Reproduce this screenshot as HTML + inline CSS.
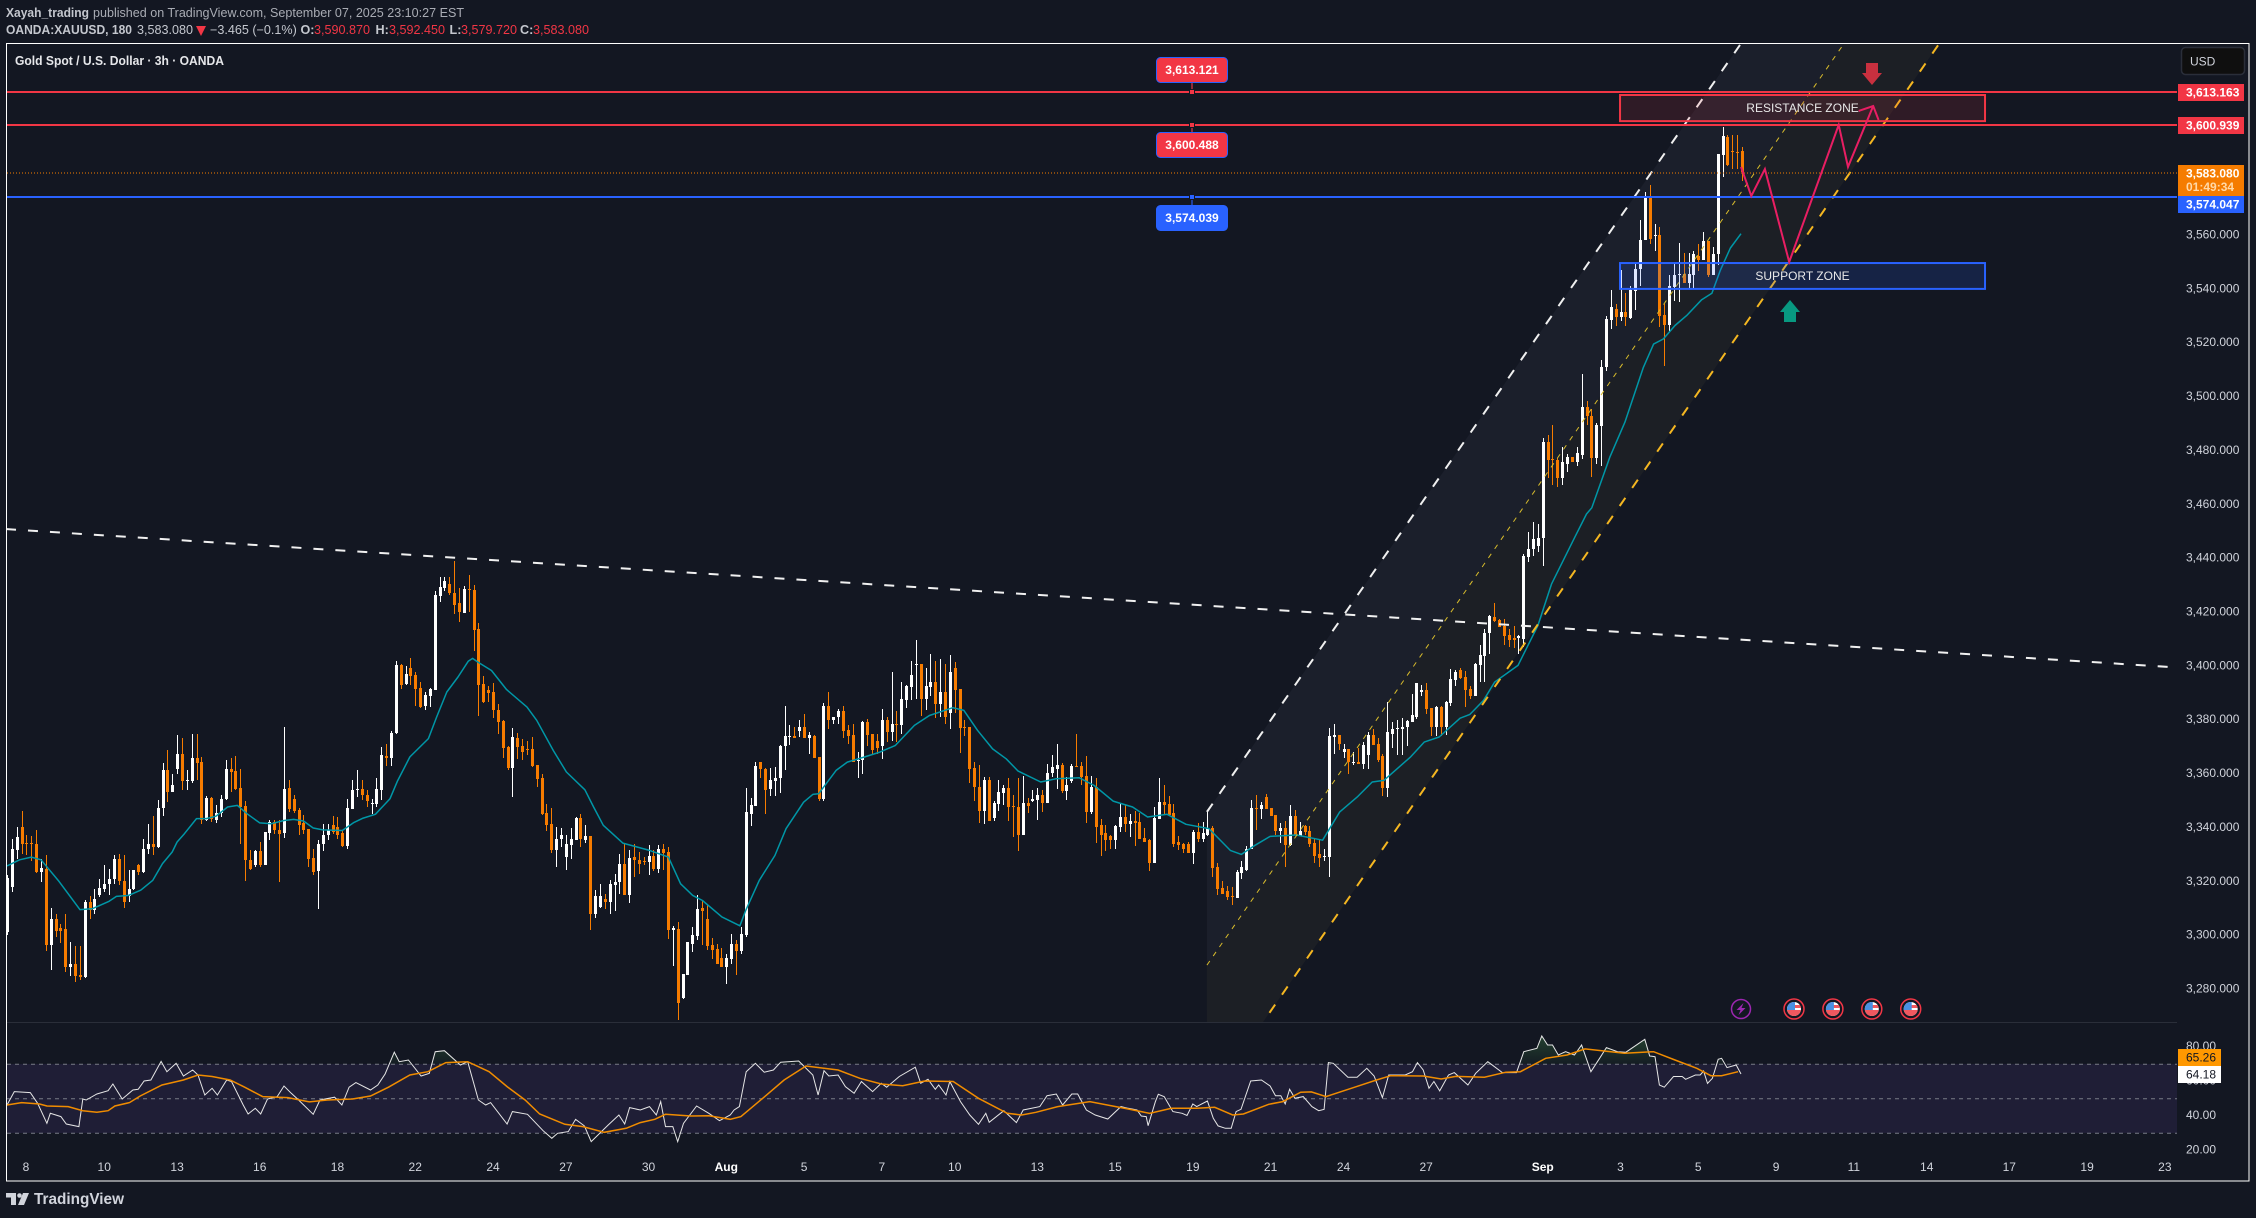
<!DOCTYPE html>
<html lang="en">
<head>
<meta charset="utf-8">
<title>Gold Spot / U.S. Dollar 3h chart</title>
<style>
html,body{margin:0;padding:0;background:#131722;width:2256px;height:1218px;overflow:hidden}
svg{display:block;font-family:"Liberation Sans",sans-serif}
text{white-space:pre}
</style>
</head>
<body>
<svg id="chart" xmlns="http://www.w3.org/2000/svg" width="2256" height="1218" viewBox="0 0 2256 1218">
<defs>
<clipPath id="mainClip"><rect x="7" y="44" width="2170" height="978"/></clipPath>
<clipPath id="overClip"><rect x="7" y="1023" width="2170" height="41"/></clipPath>
<linearGradient id="obGrad" x1="0" y1="1030" x2="0" y2="1064" gradientUnits="userSpaceOnUse">
<stop offset="0" stop-color="#4caf50" stop-opacity="0.32"/>
<stop offset="1" stop-color="#4caf50" stop-opacity="0.04"/>
</linearGradient>
<clipPath id="flagClip"><circle cx="0" cy="0" r="7"/></clipPath>
</defs>
<rect x="0" y="0" width="2256" height="1218" fill="#131722"/>

<g font-size="12.6" fill="#c4c7ce">
<text x="6" y="17" font-weight="bold" textLength="83" lengthAdjust="spacingAndGlyphs">Xayah_trading</text>
<text x="93" y="17" fill="#a9acb4" textLength="371" lengthAdjust="spacingAndGlyphs">published on TradingView.com, September 07, 2025 23:10:27 EST</text>
<text x="6" y="34" font-weight="bold" textLength="126" lengthAdjust="spacingAndGlyphs">OANDA:XAUUSD, 180</text>
<text x="137" y="34">3,583.080</text>
<polygon points="196,26 206,26 201,36" fill="#f23645"/>
<text x="210" y="34">−3.465 (−0.1%)</text>
<text x="300.5" y="34" font-weight="bold">O:</text>
<text x="314" y="34" fill="#f23645">3,590.870</text>
<text x="375.5" y="34" font-weight="bold">H:</text>
<text x="389" y="34" fill="#f23645">3,592.450</text>
<text x="449.5" y="34" font-weight="bold">L:</text>
<text x="461" y="34" fill="#f23645">3,579.720</text>
<text x="520" y="34" font-weight="bold">C:</text>
<text x="533" y="34" fill="#f23645">3,583.080</text>
</g>

<rect x="7" y="1064" width="2170" height="69" fill="#1f1e36"/>
<g id="mainPane" clip-path="url(#mainClip)"></g>
<g id="rsiPane"></g>
<line x1="7" y1="1022.5" x2="2177" y2="1022.5" stroke="#2a2e39" stroke-width="1"/>
<g id="priceAxis" font-size="12" fill="#d1d4dc"></g>
<g id="timeAxis" font-size="12" fill="#d1d4dc"></g>
<g id="rsiAxis" font-size="12" fill="#d1d4dc"></g>

<g id="eventIcons"></g>

<text x="15" y="65" font-size="13" font-weight="bold" fill="#e6e7ea" textLength="209" lengthAdjust="spacingAndGlyphs">Gold Spot / U.S. Dollar · 3h · OANDA</text>

<g>
<rect x="2181.5" y="47.5" width="63" height="27" rx="4" fill="#0f0f0f" stroke="#2a2e39" stroke-width="1.5"/>
<text x="2190" y="65.5" font-size="12" fill="#d1d4dc">USD</text>
</g>

<g fill="#d1d4dc">
<path d="M6 1193h10v12h-5v-7.5h-5z"/>
<circle cx="19.5" cy="1195.5" r="2.3"/>
<polygon points="29,1193 24,1205 18,1205 23,1193"/>
<text x="34" y="1204" font-size="16" font-weight="bold" textLength="90" lengthAdjust="spacingAndGlyphs">TradingView</text>
</g>

<rect x="6.5" y="43.5" width="2242.5" height="1137.5" fill="none" stroke="#ffffff" stroke-width="1"/>
</svg>

<script>
/* ===== candle data ===== */
const opens=[3301,3317.7,3331.3,3340,3334.2,3334,3333.8,3323.3,3324.5,3296,
3306,3302.6,3302,3288,3289.2,3285,3284.3,3312,3309,3314.8,
3317,3318.7,3320.8,3328.2,3320,3314.4,3317,3325.7,3323.3,3332,
3333.8,3332.5,3347,3361,3353,3361.6,3367.2,3357,3357,3365.7,
3364,3342.4,3350.9,3342.4,3345,3350.5,3361.6,3360.6,3354.6,3347.6,
3327.8,3325.7,3331,3325.7,3337.9,3341.8,3339,3337.7,3354.6,3350.5,
3346.2,3341.5,3339.4,3328.5,3323.5,3333.5,3336.9,3340.8,3340,3337.7,
3332.8,3346.8,3353.6,3354.2,3352,3348.6,3348.6,3353.8,3366.2,3365.7,
3375,3400,3393,3398.9,3396.3,3391.5,3384.8,3388.5,3390.7,3425.6,
3428.6,3430.4,3427,3423,3419.6,3428.2,3427.9,3413.4,3393,3390.7,
3390,3383.3,3379.2,3369.6,3361.8,3373.1,3369.9,3369,3369,3362.9,
3358.3,3345.3,3341,3331.3,3335.4,3328.8,3333.2,3335.3,3343.4,3335.3,
3336.5,3307.5,3310.3,3313.4,3312.1,3318.3,3319.5,3326.1,3314.6,3328.8,
3327.8,3327.2,3327,3329.1,3324.3,3331.9,3330.7,3301.9,3302.2,3276.5,
3284.9,3296.7,3299.4,3310,3305.9,3296,3294.5,3291.3,3288,3291,
3296.4,3293.9,3299.7,3344.9,3347.6,3364.3,3361.6,3354,3356.9,3358.2,
3370,3373.3,3373.6,3375.5,3377.1,3372.9,3373.6,3365.8,3350.5,3385.1,
3379.6,3380.7,3382.9,3375.9,3374,3364.6,3364.7,3378.8,3374.4,3372.1,
3369.9,3379.6,3375.1,3378.1,3377.7,3387,3391.8,3400,3400.4,3387.7,
3391.8,3394,3385.5,3390.3,3382.2,3399.2,3391.1,3377,3377,3361.8,
3355,3345.8,3357.3,3343.2,3348.4,3352.5,3354.3,3347.6,3347.3,3336.9,
3348.8,3349.5,3349.9,3351.7,3348.8,3359.9,3361.7,3362.9,3353.2,3356.9,
3362.5,3362.5,3358.8,3345.4,3355,3340.6,3337.6,3336.5,3335,3339.8,
3343.6,3341,3342.1,3341.7,3335.8,3335,3326.5,3342.8,3349.1,3348.4,
3345,3334.3,3333.5,3333.5,3330.2,3338,3335.4,3337.2,3339.5,3325,
3317.2,3316.1,3314.2,3313.5,3322.8,3324.2,3331.7,3346.9,3346.5,3351,
3346.9,3344.3,3338.4,3339.5,3333.2,3343.9,3336.5,3340.2,3338.4,3333.9,
3329.8,3328.7,3328.7,3373.3,3374,3368,3368.8,3364,3364.3,3363.2,
3366.6,3374,3370.7,3366.2,3354.3,3374.7,3376.2,3376.2,3377,3378.8,
3381,3390.3,3390.7,3384,3377,3384.4,3377,3385.9,3394.4,3398.1,
3395.5,3391.1,3388.5,3400,3403.3,3411.9,3417.8,3416.7,3414.5,3411.1,
3410,3410,3409.8,3440.4,3443.2,3444.5,3447.3,3483.1,3476.6,3476.4,
3469.5,3474.8,3477.5,3475.4,3478.3,3496.1,3492.7,3476.9,3489,3510.7,
3528.4,3532.3,3529.2,3531.4,3529,3539.2,3547.2,3558,3574.1,3559.8,
3560,3530.2,3526.5,3540.6,3545.1,3545.3,3542,3544.8,3552.2,3550.4,
3557.5,3545,3552.6,3589.7,3596.1,3591,3590.6,3590.87];
const highs=[3322,3335.6,3340,3345.8,3337,3336.5,3339,3328,3329.5,3310,
3307.8,3303.8,3307.8,3297.3,3295.7,3295.7,3312.7,3314.2,3317,3320.8,
3326,3324.5,3329.7,3330,3329.5,3324,3324,3326.4,3335.6,3341.2,
3344,3349.9,3363.7,3368.4,3359.5,3374,3373,3361,3374.6,3374.4,
3366,3351.4,3351,3348,3351.7,3365,3365.7,3366.2,3361.6,3349.5,
3331.6,3331.6,3334.6,3338.1,3342.4,3342.7,3342.7,3377.3,3357.3,3351.7,
3347.2,3344.3,3339.4,3332,3335,3341,3341,3344,3343.7,3338.7,
3350.2,3357.3,3361,3357.5,3353.6,3350.5,3358.3,3369.7,3370.7,3375.6,
3401.5,3400.6,3399.6,3402.6,3397.4,3393.7,3390,3391.5,3427.5,3433,
3432.7,3433,3438.6,3428.6,3429.3,3433.4,3429.7,3415.6,3395.9,3392.2,
3393.3,3385.5,3379.6,3370,3376.9,3375,3372.8,3372,3373.4,3362.9,
3359.5,3348.6,3347.1,3340,3339.7,3336.9,3339.7,3343.7,3344.9,3340.6,
3336.5,3316.7,3318.7,3315.2,3320.4,3322.6,3329.8,3333.8,3331.3,3333.8,
3330.7,3328.8,3333.4,3331.3,3333.2,3333.8,3332.5,3303.1,3304.7,3285.5,
3297.3,3302.8,3314.6,3312.7,3310.9,3298.9,3296.7,3295.2,3293,3300.4,
3297.9,3302.8,3354.6,3350.9,3364.1,3364.3,3362,3362,3362.2,3370.3,
3385.1,3378,3377,3379.6,3382,3375.1,3374,3365.8,3386.1,3390.3,
3381,3383.7,3385.1,3378,3378.4,3367.7,3379.2,3380,3374.4,3374.4,
3383.9,3380.7,3397.4,3382.9,3393.7,3392.9,3401.5,3409.3,3400.4,3399.2,
3404.1,3401.5,3402.2,3400.4,3403.7,3401.1,3391.4,3379.9,3377,3364,
3362.9,3358.4,3358.4,3349.5,3357.3,3355.4,3358,3351.7,3358,3359.1,
3350.6,3353.6,3354.3,3353.6,3363.2,3366.9,3370.7,3363.6,3358.4,3363.2,
3374.4,3364,3366.2,3358.8,3358,3342.8,3340.6,3337.2,3340.6,3348.8,
3348,3344.7,3345.8,3345,3339.5,3335.4,3347.3,3358,3355.4,3351.4,
3348.4,3336.5,3333.9,3334.3,3338.7,3341.3,3341.7,3345.4,3340.2,3326.5,
3319.8,3317.9,3317.6,3323.9,3327.2,3332.8,3349.9,3352,3349.1,3352.1,
3346.9,3344.3,3341.3,3342.1,3348,3346.2,3341.7,3340.6,3340.2,3335.4,
3335,3331.7,3376.6,3378.4,3374,3370.7,3368.8,3368,3369.5,3371.4,
3375.1,3376.2,3372.9,3367,3386.3,3378.8,3379.6,3380.3,3379.6,3389.2,
3393.3,3392.6,3393.3,3384,3384.8,3384.8,3386.6,3398.5,3398.1,3398.9,
3397.8,3392.2,3400.7,3407.4,3413.4,3418.6,3423,3417.1,3417.4,3413.4,
3414.5,3411.1,3441.5,3449.7,3453.4,3452.5,3484.4,3485.7,3489.4,3477,
3481.2,3478.5,3477.5,3481,3508.2,3498,3495.2,3489.9,3513.4,3529.9,
3539.4,3534.2,3547,3538.2,3541,3549,3565.5,3575.7,3578.2,3564,
3562.7,3534.2,3545.1,3549.4,3556.9,3553,3553,3554,3556.3,3560.8,
3557.5,3555.3,3590,3599.9,3596.8,3596.8,3596.8,3592.45];
const lows=[3300,3315.8,3328,3330,3329.5,3327.3,3323,3319.5,3294,3286.7,
3299,3297,3286,3284.5,3282.4,3283.3,3284,3306,3307.8,3314,
3316,3314.6,3319,3318.3,3310,3312,3316.5,3322,3323,3329.8,
3329.5,3332.3,3344,3349.3,3353,3359.5,3353.6,3353.6,3356.3,3357.3,
3341,3342.2,3341.8,3341.5,3343.7,3350,3353,3353.8,3333.8,3320,
3324,3325,3325,3325.7,3335,3337.5,3319.5,3336,3345.5,3345,
3337,3337.5,3325,3322,3309.4,3331,3335.3,3337.5,3335.6,3332.5,
3331.7,3346.8,3351.1,3350.1,3347.4,3344.7,3347.4,3350.1,3362.5,3362.5,
3374.6,3391.1,3392.9,3392.9,3384.8,3384.3,3383.3,3384.5,3390.7,3423.4,
3427.5,3426,3418.9,3416,3419.3,3420,3405.2,3381.1,3385.9,3386.3,
3380.3,3374.4,3365.5,3361,3351.1,3365.3,3364.7,3366.6,3362.2,3355,
3344.3,3338.5,3330.3,3325.1,3332.5,3324.1,3328.2,3335,3332.5,3334,
3301.6,3306.3,3310,3309.6,3307.8,3308.8,3315,3314.6,3311.8,3321.4,
3322.4,3325.7,3322,3323.6,3322.9,3323.9,3298.5,3288.2,3268.2,3276,
3284.9,3293.6,3298.1,3296,3294.2,3291,3289.2,3288,3281.6,3289.2,
3284.9,3292.7,3299.1,3340.2,3347.6,3358,3344.9,3351.5,3351.5,3352.6,
3361,3370.3,3372.9,3373.4,3372.9,3367.2,3365.6,3349.6,3349.6,3376.5,
3378.1,3378.1,3372.9,3370.7,3364.3,3358,3359.8,3369.9,3367,3367.2,
3365.1,3371.4,3372.1,3371.4,3374.4,3384,3387,3387.7,3381.1,3383.3,
3388.5,3380.3,3381,3378.1,3376.2,3382.2,3367.3,3373.6,3356.5,3349.5,
3341.3,3341,3342.1,3342.1,3345.8,3348,3342.1,3336.1,3330.9,3336.9,
3345,3349.1,3342.4,3345.4,3348.8,3358.4,3354,3352.5,3349.9,3356.5,
3362.1,3355.4,3341.3,3344.7,3333.9,3329.4,3330.9,3332,3332,3338,
3338,3336.1,3332.8,3335.4,3334.3,3323.5,3326.5,3342.8,3344.7,3344.3,
3332.4,3331.3,3330.2,3330.2,3326.1,3334.3,3334.3,3336.5,3321.3,3314.6,
3315,3312.7,3311.2,3313.5,3320.5,3323.5,3331.7,3338.7,3343,3346.5,
3343.9,3336.9,3333.9,3325,3332.8,3336.9,3336.5,3337.2,3332.4,3326.8,
3325,3327.2,3321.3,3367,3368.4,3365.5,3359.5,3362.9,3363.2,3361.7,
3361.7,3370.3,3364,3351.4,3351,3369.5,3366.9,3366.9,3370,3378.8,
3380,3388.5,3381.8,3373.6,3373.6,3373.6,3374,3384.8,3392.2,3394.8,
3384.4,3387.4,3388.5,3393.7,3394,3404.1,3416,3414.1,3407.4,3406.7,
3406.3,3404.1,3406.7,3438.5,3440.8,3442,3437,3469.6,3467.1,3466.1,
3466.8,3471.9,3475.7,3474.2,3476.6,3489.4,3469.8,3474.8,3474.2,3509.2,
3524.9,3526.2,3527.8,3526.2,3528.6,3532.1,3541,3558,3556.5,3554,
3525.8,3511.3,3523.7,3535.4,3534.8,3542,3539.8,3539.8,3546.6,3550.4,
3544.4,3545,3548.5,3581.5,3585.6,3584.4,3584.4,3579.72];
const closes=[3321,3331.7,3336.3,3333.8,3333.8,3333.8,3323.3,3324.8,3296,3306,
3301.4,3301.4,3288,3289.2,3284.5,3284.3,3312,3309,3313.4,3317.4,
3319,3320.8,3328.2,3320,3312,3317,3324,3323.3,3332,3333.8,
3332.5,3347,3361,3353,3355.4,3367.2,3357,3357.3,3365.7,3363.7,
3342.7,3350.9,3343,3345,3350.5,3361.6,3360.4,3354.2,3347.4,3327.6,
3324.3,3331,3325.7,3338,3341.8,3338.7,3337.5,3354.2,3346.8,3345.8,
3340.6,3338.7,3328.2,3323.3,3333.8,3337,3338.7,3338,3337.2,3332.8,
3347.2,3353.8,3354.2,3351.7,3349.5,3348.9,3354,3366.6,3365.5,3375,
3400,3392.6,3396.7,3395.9,3391.1,3384.5,3388.9,3391.1,3426,3429,
3431.2,3426.7,3422.6,3419.7,3428.2,3427.9,3413,3392.6,3386.3,3389.6,
3383.3,3378.8,3369.2,3361.8,3373.4,3369.7,3367.8,3368.6,3362.5,3357.9,
3344.9,3340.6,3331.3,3335.6,3336.9,3333.5,3335.6,3343.4,3335.6,3336.6,
3307.5,3314.2,3314.2,3312.1,3318.7,3319.7,3326.1,3314.6,3328.6,3327.6,
3326.1,3327,3329.1,3324.3,3331.9,3330.4,3301.6,3302.3,3274.6,3285.3,
3297.3,3299.7,3309.6,3308.8,3295.7,3294.2,3289.2,3288,3291.5,3296.4,
3293.8,3300.1,3345.5,3348,3362.5,3361.4,3353.8,3357.3,3358.3,3370,
3373.6,3373.6,3372.9,3377.1,3372.9,3374,3365.6,3350.5,3385.1,3379.6,
3380.7,3382.9,3375.5,3373.6,3364.3,3365,3379,3374,3368.4,3369.5,
3379.6,3375.1,3378.1,3377.7,3387.4,3392.2,3396.3,3400.4,3387.7,3392.2,
3394,3385.5,3390.3,3381,3397.4,3390.7,3376.6,3376.8,3361.4,3354.7,
3345.8,3357.3,3342.1,3348.8,3352.8,3354.3,3347.3,3347.3,3336.9,3348.8,
3347.6,3350.2,3351.7,3348.8,3359.9,3362.1,3362.9,3353.2,3355.4,3362.5,
3362.1,3358.4,3345.4,3355,3339.8,3337.2,3335,3335,3340.2,3343.6,
3341,3342.1,3341.3,3335.4,3334.6,3326.5,3343.2,3349.1,3348,3344.3,
3333.5,3333.2,3332,3330.2,3338,3335.4,3337.6,3339.5,3324.6,3316.8,
3315,3313.9,3313.9,3323.1,3325,3332,3346.9,3346.5,3348,3346.5,
3343.9,3338.4,3339.5,3333.2,3343.9,3336.9,3338.4,3338,3333.5,3329.4,
3328.3,3329.1,3373.6,3374,3370.7,3368.8,3364,3364.3,3363.2,3370.3,
3374,3370.3,3365,3354.3,3375.1,3376.2,3376.6,3377.3,3379.2,3381.4,
3393.3,3390.7,3383.7,3377,3384.4,3377,3386.3,3394.8,3397.4,3395.2,
3390.7,3388.5,3400.4,3403.7,3412.2,3418.2,3416.3,3414.1,3410.8,3409.6,
3409.6,3410.8,3440.8,3443.2,3447,3447.3,3483.1,3476.4,3476.4,3469.5,
3475.4,3477.5,3475.7,3479,3496.1,3492.5,3476.9,3489.4,3510.9,3528.6,
3533.2,3529.2,3531.4,3529.2,3539.4,3547.2,3558,3573.9,3558.4,3559.9,
3529.9,3526.5,3541,3545.1,3545.3,3542,3545.3,3552.6,3550.4,3557.5,
3544.8,3552.8,3590,3596.4,3585.9,3590.5,3590.2,3583.08];

/* ===== moving average on price ===== */
const maBars=[0,2.6,5,7,10.7,15,17.5,21,22.5,25,27.5,30,32,34,35,36.5,39,41,43,45.4,47.4,49.4,52,54.4,57,59,61,63,65,69,71.3,73.3,75.8,78.8,80.3,82.9,86.7,88.4,90.5,92.8,94.9,95.8,96.9,99.7,102.8,107,109,112.4,115.1,118.9,120.7,122.7,126.7,132.2,136.1,138.6,141.1,143.1,147.1,150.8,152,154.8,158,160.3,163.9,165.8,167,170.6,172.9,176.5,179.6,182.8,186.7,189.8,194.6,196.9,199.7,202.8,205.6,208,212.7,215.8,220.6,223.7,227.6,231.6,234.7,238.7,242.6,247.3,251.7,254,256.8,259.9,265.3,270.7,274.2,277.8,280.9,283.3,288.8,291.6,294.7,299,301,303.8,306.1,310.9,315,317.8,322.6,325,326.1,329.8,332.9,336.7,338.8,340.8,343.2,345.6,348.7,350.8,352.5,354.6,356.8];
const maValues=[3325.5,3327.8,3328.8,3327.8,3319.8,3309.3,3309.6,3312.4,3314.2,3314.6,3316.5,3320.2,3326.4,3330.7,3334.4,3337.5,3343.1,3343.1,3344,3347.4,3348,3344.9,3341.5,3341.2,3342.4,3342.8,3342.2,3339.6,3338.9,3338.7,3341.6,3343.3,3344.7,3350.5,3356.9,3366,3372.8,3380.8,3390.1,3395.7,3401.5,3402.6,3401.2,3398.1,3391,3384.5,3379.6,3368.4,3360.4,3353.8,3347.4,3340.6,3334,3331.3,3328.8,3318.9,3314.6,3312.7,3306.6,3303.3,3309,3320.2,3329.4,3339.4,3349.2,3352.1,3352.3,3361,3364.1,3366,3367.8,3370.3,3377.7,3381.4,3384.3,3383.3,3375.9,3369,3365.3,3360.8,3356.7,3357.9,3358.3,3355.4,3349.6,3347.4,3343.7,3344.7,3341,3339.4,3331.3,3329.8,3333.2,3336.5,3337,3335.1,3345.5,3351.1,3356.7,3357.3,3366,3371.5,3373.4,3380.4,3381.8,3387,3393.8,3400,3414.8,3430.2,3447.6,3456.2,3458.5,3477.3,3490.3,3510.7,3519.3,3521.2,3526.2,3529.9,3535.8,3538.2,3546.6,3555,3560.3];

/* ===== RSI ===== */
const rsiBars=[0,1.5,4.8,6.3,8.2,8.9,11.1,12.2,14.8,15.6,16.3,18.5,20.8,21.8,23.7,25.9,27,28.2,29.6,31.7,32.9,34.8,36.3,38.2,39.3,40.7,42.2,43.3,45.2,46.2,48.6,49.6,51.1,52.2,53.6,55.6,57,58.5,60,63,64.4,67.4,68.9,70.4,71.8,74.8,76.3,77.8,79.7,80.7,82.6,85.2,86.9,88.1,90,93.3,94.8,97,98.5,99.5,102.9,104,107.1,110.3,112.1,113.3,115.5,117,118.8,120.2,123.7,125.9,127.1,128.1,130.3,132.2,133.6,134.5,135.5,137,138,139.2,141.9,144.4,146.6,148.8,149.6,150.7,152.1,154,155.8,157.7,159.2,162.9,165.8,166.9,168.1,169.1,171,172.5,174.3,175.8,178.1,179.9,181,183.6,186.9,188,189.5,191,191.7,193.2,194,196.2,198.1,199.9,201.4,202.1,205.1,207.7,209.1,212.5,214,215.9,217.2,219.1,220.3,222.1,223.9,226.5,229.2,230.7,232.5,233.4,234.4,234.8,236.3,236.9,238.1,239.9,241.8,242.8,244,244.8,247,248.2,249.2,250.7,251.9,252.9,253.9,255.9,258.1,259.9,261,262.1,263,263.9,265,266.7,268.5,269.9,271,271.9,272.9,275.9,277.8,279.8,281.3,283,284.3,287.7,289.2,290.2,291.4,292.6,293.6,294.8,296.6,297.8,300.6,302.2,304.7,307.7,310.6,312.1,314.8,315.8,317,318,319.2,320.7,322.5,324,325.9,327.7,329.1,331.4,333.1,337,338,339.1,340,341,342.9,344.7,345.4,347.4,348.4,349.1,349.9,350.9,352.1,352.8,353.9,355.8,356.8];
const rsiValues=[46.4,54.2,53.6,47.4,35.8,41.6,39.7,35.4,33.9,49.9,49.3,52.8,54.7,58.6,49.9,55.1,55.5,60.3,60.9,71.7,65.7,70.6,63.2,66.7,63.8,52.2,56.1,52.2,60.9,60,46.4,41.2,44.5,41.2,49.9,51.3,57.4,53.2,49.3,41,49.3,50.9,46.4,56.7,59.4,55.1,58,64.4,77,71.5,72.5,63.2,64.8,77.3,77.9,69.6,71.5,49.3,46.4,47.8,35.4,42.6,41,31.5,27.1,30,31,38.1,34.3,25.2,34.8,40.6,35.4,44.9,43.5,45.5,40.6,48.4,33.9,33.9,25.2,35.8,45.8,41.6,37.3,40.6,43.5,45.5,65.7,70.6,65.4,66.7,71.2,71.9,63.8,52.2,66.3,63.2,63.8,57.1,53.2,60,54.2,59,56.7,62.9,68.3,59,61.3,55.5,58,52.2,60,48.4,40.6,35.2,41.6,36.4,43.1,36.2,43.5,45.5,51.8,52.8,46.4,52.8,52.8,43.5,40.6,38.3,45.5,44.5,43.5,40,39.7,34.4,48.4,52.6,51.3,42.6,41.6,40.3,47,45.5,48.7,38.7,34.3,32.9,32.9,42.6,43.9,60.3,60.9,57.4,51.8,51.8,47,55.5,50.3,51.3,45.5,43.1,43.9,71,70.6,62.5,62.5,67.7,63.2,50.7,63.8,63.8,65.7,71,66.7,56.1,60,54.6,63.8,65.2,58,64.8,71.5,65.2,65.2,77.3,79.3,86.4,81.2,81.2,75.4,77.3,75.4,81.2,65.7,73.5,79.7,77.3,77,84.5,74.8,74.4,58,56.7,62.9,62.9,61.3,63.8,63.8,66.1,58.9,61.9,72.9,73.5,68.1,69.6,64.4];
const rsiMaBars=[0,3,6.7,8.2,12.6,15.6,18.5,20.8,22.2,25.2,27.4,31.9,36.3,39.3,42.2,45.9,48.9,52.6,57.8,62.2,65.9,71.1,74.8,78.5,82.9,86.6,90.3,94.8,99.2,102.9,106.6,109.6,114.8,118.5,122.9,127.4,130.3,133.3,135.5,140.7,144.4,148.8,151,155.5,159.9,164.4,171,175.5,179.9,184.3,188.8,194.7,199.9,205.8,208.8,211.7,216.2,222.8,230.7,235.1,239.6,244.8,248.5,252.2,254.4,259.6,262.5,266.2,268.4,271.4,277.3,281.8,284.7,291.4,295.1,298.1,304,308.4,311.4,316.6,321,324.7,332.8,338.8,343.2,347.7,350.6,352.8,356.2];
const rsiMaValues=[46.4,47.8,47,45.8,45.5,43.1,42.2,43.1,45.8,47.8,51.6,58,60.9,63.8,62.9,60.9,56.7,51.3,50.7,48.2,49.3,49.9,51.6,56.7,63.8,65.7,71,71.5,65.7,57.1,49.3,41.2,35.2,33.9,30.6,32.9,36.2,38.1,41,40,40.2,38.1,39.7,50.3,60.9,69,66.7,61.9,58.6,57.6,60.3,60,50.3,41.6,40.6,42.2,45.5,48.4,44.1,41.6,44.5,44.5,45.1,40.6,41.2,46.8,48.4,53.8,54,51.3,56.7,60.9,63.4,63.2,61.5,63,62.5,65.4,65.7,73.5,75.4,78.9,76.4,77.3,72.5,67.7,63.4,63.4,65.7];
const rsiGuides=[70,50,30];
const rsiTicks=[80,60,40,20];

/* ===== axes labels ===== */
const priceTicks=[3560,3540,3520,3500,3480,3460,3440,3420,3400,3380,3360,3340,3320,3300,3280];
const timeTickBars=[3.9,20,35,52,68,84,100,115,132,148,164,180,195,212,228,244,260,275,292,316,332,348,364,380,395,412,428,444];
const timeTickLabels=['8','10','13','16','18','22','24','27','30','Aug','5','7','10','13','15','19','21','24','27','Sep','3','5','9','11','14','17','19','23'];

/* ===== drawing tools, in bar / price coordinates ===== */
const resistancePrices=[3613.163,3600.939];
const supportPrices=[3574.047];
const lastPrice=3583.08;
const trendAnchorBars=[-0.2,445];
const trendAnchorPrices=[3450.6,3399.4];
const channelBars=[246.9,357.2,246.9,378.4,246.9,398];
const channelPrices=[3345.6,3632,3288.7,3632,3237.4,3632];
const zoneBars=[331.9,407];
const resistanceZonePrices=[3611.8,3602.1];
const supportZonePrices=[3549.4,3539.8];
const pathBars=[356.8,358.9,361.7,366.7,376.9,378.8,384];
const pathPrices=[3585.1,3574.3,3584.3,3549.8,3600.7,3585.1,3607.7];
const pathHeadBars=[381,384,385.1];
const pathHeadPrices=[3605.9,3607.7,3602.5];

const NS='http://www.w3.org/2000/svg';
const BAR_X0=7,BAR_STEP=4.86;
const xOf=b=>BAR_X0+b*BAR_STEP;
const yOf=p=>234.5-(p-3560)*2.693;
const rsiY=v=>1064.3+(70-v)*1.725;
function make(tag,parent,attrs,txt){
  const el=document.createElementNS(NS,tag);
  for(const k in attrs) el.setAttribute(k,attrs[k]);
  if(txt!==undefined) el.textContent=txt;
  parent.appendChild(el);
  return el;
}
const main=document.getElementById('mainPane');
const rsiPane=document.getElementById('rsiPane');
const priceAxis=document.getElementById('priceAxis');
const timeAxis=document.getElementById('timeAxis');
const rsiAxis=document.getElementById('rsiAxis');
const icons=document.getElementById('eventIcons');

/* channel fills */
function poly(bars,prices){return bars.map((b,i)=>xOf(b).toFixed(1)+','+yOf(prices[i]).toFixed(1)).join(' ');}
let el=make('polygon',main,{points:poly([channelBars[0],channelBars[1],channelBars[3],channelBars[2]],[channelPrices[0],channelPrices[1],channelPrices[3],channelPrices[2]]),fill:'#1b1f2b'});


el=make('polygon',main,{points:poly([channelBars[2],channelBars[3],channelBars[5],channelBars[4]],[channelPrices[2],channelPrices[3],channelPrices[5],channelPrices[4]]),fill:'#1c1f25'});



/* candles */
opens.forEach((o,i)=>{
  const c=closes[i],up=c>=o,col=up?'#ffffff':'#f77c00';
  const cx=Math.round(xOf(i));
  const g=make('g',main,{fill:col,'shape-rendering':'crispEdges'});
  
  
  const yh=Math.round(yOf(highs[i])),yl=Math.round(yOf(lows[i]));
  make('rect',g,{x:cx,y:yh,width:1,height:Math.max(1,yl-yh)});
  const yt=Math.round(yOf(Math.max(o,c))),yb=Math.round(yOf(Math.min(o,c)));
  make('rect',g,{x:cx-1,y:yt,width:3,height:Math.max(1,yb-yt)});
});

/* price moving average */
el=make('polyline',main,{points:poly(maBars,maValues),fill:'none',stroke:'#0097a7','stroke-width':1.5,'stroke-linejoin':'round'});



/* trendline and channel borders */
function seg(b1,p1,b2,p2,stroke,w,dash){
  return make('line',main,{x1:xOf(b1),y1:yOf(p1),x2:xOf(b2),y2:yOf(p2),stroke:stroke,'stroke-width':w,'stroke-dasharray':dash});
}
el=seg(trendAnchorBars[0],trendAnchorPrices[0],trendAnchorBars[1],trendAnchorPrices[1],'#f0f0f0',2,'10 12');


el=seg(channelBars[0],channelPrices[0],channelBars[1],channelPrices[1],'#f0f0f0',2,'10 12');


el=seg(channelBars[2],channelPrices[2],channelBars[3],channelPrices[3],'#d8bc2c',1,'5 6');


el=seg(channelBars[4],channelPrices[4],channelBars[5],channelPrices[5],'#f5b721',2,'10 12');



/* last price dotted line */
const lastY=Math.ceil(yOf(lastPrice));
el=make('line',main,{x1:7,y1:lastY,x2:2177,y2:lastY,stroke:'#f57c00','stroke-width':1,'stroke-dasharray':'1 2'});



/* horizontal levels */
resistancePrices.forEach(p=>{
  const y=Math.ceil(yOf(p));
  const l=make('line',main,{x1:7,y1:y,x2:2177,y2:y,stroke:'#f23645','stroke-width':2});
  
  
});
supportPrices.forEach(p=>{
  const y=Math.ceil(yOf(p));
  const l=make('line',main,{x1:7,y1:y,x2:2177,y2:y,stroke:'#2962ff','stroke-width':2});
  
  
});

/* zones */
function zone(prices,fill,stroke){
  const x1=xOf(zoneBars[0]),x2=xOf(zoneBars[1]),y1=yOf(prices[0]),y2=yOf(prices[1]);
  return make('rect',main,{x:x1,y:y1,width:x2-x1,height:y2-y1,fill:fill,stroke:stroke,'stroke-width':2});
}
el=zone(resistanceZonePrices,'rgba(242,54,69,0.13)','#f23645');


el=zone(supportZonePrices,'rgba(41,98,255,0.16)','#2962ff');


const zoneCx=(xOf(zoneBars[0])+xOf(zoneBars[1]))/2;
el=make('text',main,{x:zoneCx,y:(yOf(resistanceZonePrices[0])+yOf(resistanceZonePrices[1]))/2+4,'text-anchor':'middle','font-size':12,fill:'#e8e8e8'},'RESISTANCE ZONE');


el=make('text',main,{x:zoneCx,y:(yOf(supportZonePrices[0])+yOf(supportZonePrices[1]))/2+4,'text-anchor':'middle','font-size':12,fill:'#e8e8e8'},'SUPPORT ZONE');



/* projected path */
el=make('polyline',main,{points:poly(pathBars,pathPrices),fill:'none',stroke:'#e91e63','stroke-width':2,'stroke-linejoin':'miter'});


el=make('polyline',main,{points:poly(pathHeadBars,pathHeadPrices),fill:'none',stroke:'#e91e63','stroke-width':2});



/* annotation arrows */
el=make('polygon',main,{points:'1866,63 1878,63 1878,73 1882,73 1872,85 1862,73 1866,73',fill:'#c9303f'});


el=make('polygon',main,{points:'1790,300 1800,312 1796,312 1796,322 1784,322 1784,312 1780,312',fill:'#089981'});



/* price callouts on the chart */
const calloutLabels=['3,613.121','3,600.488','3,574.039'];
const calloutTops=[57,132,205];
const calloutLineY=[92,125,197];
const calloutFills=['#f23645','#f23645','#2962ff'];
const calloutStems=['#8e2a3a','#8e2a3a','#1e3f9e'];
calloutLabels.forEach((t,i)=>{
  const top=calloutTops[i],ly=calloutLineY[i];
  const sy1=Math.min(top+25,ly),sy2=Math.max(top,ly);
  const stem=make('rect',main,{x:1191,y:sy1,width:2,height:sy2-sy1,fill:calloutStems[i]});
  
  
  const h=make('rect',main,{x:1189.5,y:ly-2.5,width:5,height:5,fill:calloutFills[i],stroke:'#131722','stroke-width':1});
  
  
  const b=make('rect',main,{x:1156.5,y:top+.5,width:71,height:25,rx:4,fill:calloutFills[i],stroke:'#2962ff','stroke-width':1});
  
  
  const tx=make('text',main,{x:1192,y:top+17,'text-anchor':'middle','font-size':12,'font-weight':'bold',fill:'#fff'},t);
  
  
});

/* price axis */
priceTicks.forEach(p=>{
  const t=make('text',priceAxis,{x:2186,y:yOf(p)+4},p.toLocaleString('en-US',{minimumFractionDigits:3}));
  
  
});
const badgeFills=['#f23645','#f23645','#2962ff'];
const badgeTexts=['3,613.163','3,600.939','3,574.047'];
const badgeTops=[84,117,196];
badgeTexts.forEach((t,i)=>{
  const r=make('rect',priceAxis,{x:2178,y:badgeTops[i],width:66,height:17,fill:badgeFills[i]});
  
  
  const tx=make('text',priceAxis,{x:2186,y:badgeTops[i]+12.5,fill:'#fff','font-weight':'bold'},t);
  
  
});
el=make('rect',priceAxis,{x:2178,y:165,width:66,height:31,fill:'#f57c00'});


el=make('text',priceAxis,{x:2186,y:177.5,fill:'#fff','font-weight':'bold'},'3,583.080');


el=make('text',priceAxis,{x:2186,y:191,fill:'#ffd9a8','font-weight':'bold'},'01:49:34');



/* time axis */
timeTickLabels.forEach((t,i)=>{
  const major=t==='Aug'||t==='Sep';
  const tx=make('text',timeAxis,{x:xOf(timeTickBars[i]),y:1171,'text-anchor':'middle',fill:major?'#ffffff':'#d1d4dc','font-weight':major?'bold':'normal'},t);
  
  
});

/* RSI pane */
rsiGuides.forEach(v=>{
  const l=make('line',rsiPane,{x1:7,y1:rsiY(v),x2:2177,y2:rsiY(v),stroke:'#787b86','stroke-width':1,'stroke-dasharray':'4 4'});
  
  
});
const rsiPts=rsiBars.map((b,i)=>xOf(b).toFixed(1)+','+rsiY(rsiValues[i]).toFixed(1)).join(' ');
const y70=rsiY(70);
el=make('polygon',rsiPane,{points:xOf(rsiBars[0])+','+y70+' '+rsiPts+' '+xOf(rsiBars[rsiBars.length-1])+','+y70,fill:'url(#obGrad)','clip-path':'url(#overClip)'});


el=make('polyline',rsiPane,{points:rsiPts,fill:'none',stroke:'#e6e6e6','stroke-width':1});


el=make('polyline',rsiPane,{points:rsiMaBars.map((b,i)=>xOf(b).toFixed(1)+','+rsiY(rsiMaValues[i]).toFixed(1)).join(' '),fill:'none',stroke:'#f08c00','stroke-width':1.5});


rsiTicks.forEach(v=>{
  const t=make('text',rsiAxis,{x:2186,y:rsiY(v)+3},v.toFixed(2));
  
  
});
el=make('rect',rsiAxis,{x:2178,y:1049,width:43,height:17,fill:'#ff9800'});


el=make('text',rsiAxis,{x:2186,y:1061.5,fill:'#131722'},'65.26');


el=make('rect',rsiAxis,{x:2178,y:1066,width:43,height:17,fill:'#ffffff'});


el=make('text',rsiAxis,{x:2186,y:1078.5,fill:'#131722'},'64.18');



/* event markers */
const boltGroup=make('g',icons,{transform:'translate(1741,1009)'});


make('circle',boltGroup,{r:9.5,fill:'#131722',stroke:'#9c27b0','stroke-width':1.5});
make('polygon',boltGroup,{points:'2.5,-6 -4.5,1 -0.5,1 -2.5,6 4.5,-1 0.5,-1',fill:'#9c27b0'});
const flagBars=[367.7,375.7,383.7,391.7];
flagBars.forEach(b=>{
  const g=make('g',icons,{transform:'translate('+xOf(b).toFixed(1)+',1009)'});
  
  
  make('circle',g,{r:10,fill:'#131722',stroke:'#f23645','stroke-width':1.5});
  const inner=make('g',g,{'clip-path':'url(#flagClip)'});
  make('rect',inner,{x:-8,y:-8,width:16,height:16,fill:'#ffffff'});
  make('rect',inner,{x:-8,y:1,width:16,height:7,fill:'#f0585f'});
  make('rect',inner,{x:0,y:-4,width:8,height:3,fill:'#f0585f'});
  make('rect',inner,{x:-8,y:-8,width:9,height:9,fill:'#4a90e2'});
});
</script>
</body>
</html>
